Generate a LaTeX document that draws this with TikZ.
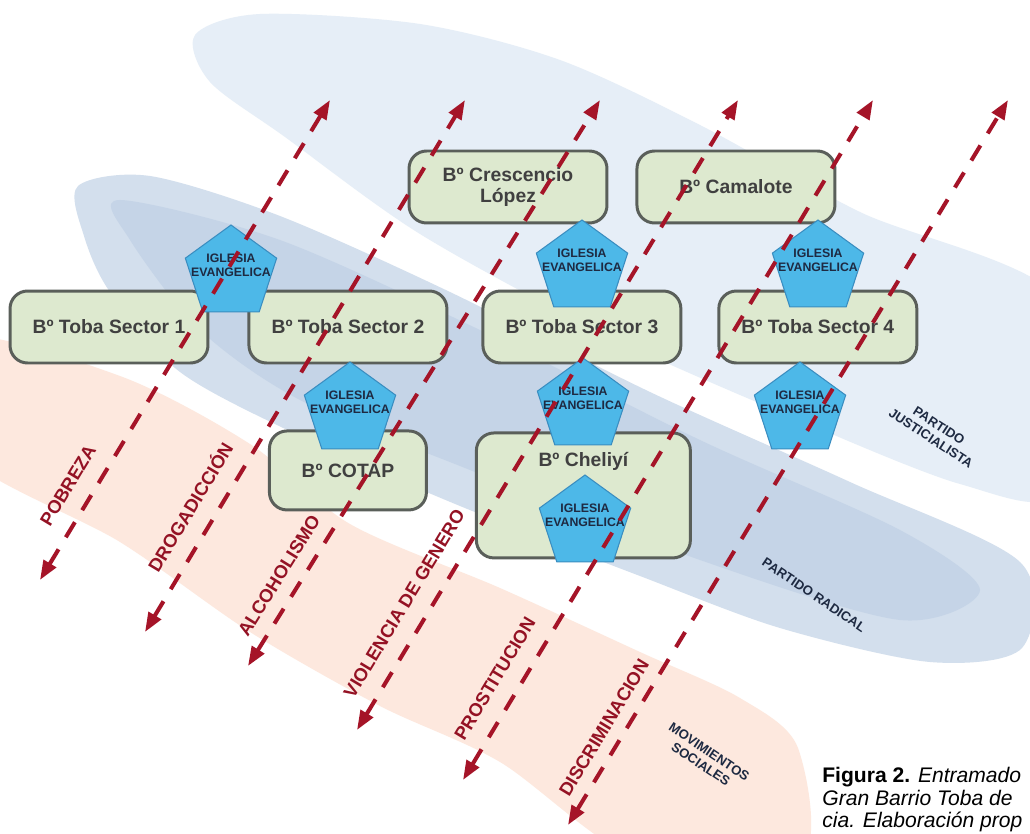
\documentclass[tikz,border=0pt]{standalone}
\usepackage{fontspec}
\setmainfont{Liberation Sans}
\usepackage{xcolor}
\usepackage{tikz}
\usetikzlibrary{positioning, arrows.meta, shapes.geometric}

\definecolor{barriofill}{HTML}{DDE9CF}
\definecolor{barrioline}{HTML}{5A5F5A}
\definecolor{iglesiafill}{HTML}{4DB8E8}
\definecolor{iglesialine}{HTML}{3A8DC0}
\definecolor{riesgored}{HTML}{A51428}
\definecolor{pjblue}{HTML}{E6EEF7}
\definecolor{ucrblue}{HTML}{D3DFED}
\definecolor{ucrcore}{HTML}{C2D2E6}
\definecolor{msocpeach}{HTML}{FDE8DE}
\definecolor{bandtext}{HTML}{1E2A42}

\begin{document}
\begin{tikzpicture}[
    x=0.02cm, y=-0.02cm,
    barrio/.style={
        rectangle,
        draw=barrioline,
        fill=barriofill,
        line width=1.7pt,
        rounded corners=10pt,
        minimum width=3.96cm,
        minimum height=1.44cm,
        align=center,
        text=black!75,
        font=\fontsize{11}{12.5}\selectfont\bfseries
    },
    iglesiatexto/.style={
        align=center,
        inner sep=0pt,
        yshift=4.5pt,
        text=bandtext,
        font=\fontsize{7}{8}\selectfont\bfseries
    },
    iglesia/.style={
        regular polygon,
        regular polygon sides=5,
        draw=iglesialine,
        fill=iglesiafill,
        line width=0.6pt,
        minimum size=1.92cm,
        inner sep=0pt,
        label={[iglesiatexto]center:IGLESIA\\EVANGELICA}
    },
    riesgo/.style={
        riesgored,
        line width=2.3pt,
        dash pattern=on 10pt off 8pt,
        {Triangle[length=11pt,width=8pt]}-{Triangle[length=11pt,width=8pt]}
    },
    riesgolabel/.style={
        sloped, above=6pt,
        text=riesgored!90!black,
        font=\fontsize{10.5}{12}\selectfont\bfseries
    },
    banda/.style={
        align=center,
        text=bandtext,
        font=\fontsize{7.5}{8.5}\selectfont\bfseries
    }
]
    \clip (0,0) rectangle (1030,834);
    \fill[white] (0,0) rectangle (1030,834);

    % Background: party and movement bands
    \fill[pjblue]
        plot[smooth cycle] coordinates {(195,35) (260,14) (420,24) (560,60) (700,125) (860,212) (1060,300)
                                        (1060,490) (960,484) (780,412) (600,332) (420,234) (285,137) (210,82)};
    \fill[ucrblue]
        plot[smooth cycle] coordinates {(78,186) (150,176) (280,216) (450,292) (650,392) (850,482) (1020,562)
                                        (1022,648) (930,662) (780,628) (640,576) (460,506) (300,436) (180,372) (110,292) (84,236)};
    \fill[ucrcore, opacity=0.8]
        plot[smooth cycle] coordinates {(120,200) (280,240) (480,330) (700,440) (900,530) (980,590)
                                        (900,620) (700,560) (470,470) (300,400) (200,330) (130,240)};
    \fill[msocpeach]
        plot[smooth cycle] coordinates {(-40,338) (120,376) (250,444) (350,524) (500,588) (640,652) (740,698)
                                        (798,748) (800,860) (640,860) (500,762) (380,706) (250,632) (120,542) (-40,452)};

    % Row 1: Crescencio Lopez + Camalote
    \node[barrio] (cres) at (508,187) {Bº Crescencio\\López};
    \node[barrio, right=0.54cm of cres] (cama) {Bº Camalote};

    % Row 2: Toba sectors
    \node[barrio] (toba1) at (109,327) {Bº Toba Sector 1};
    \node[barrio, right=0.76cm of toba1] (toba2) {Bº Toba Sector 2};
    \node[barrio, right=0.66cm of toba2] (toba3) {Bº Toba Sector 3};
    \node[barrio, right=0.7cm of toba3] (toba4) {Bº Toba Sector 4};

    % Row 3: COTAP + Cheliyi
    \node[barrio, minimum width=3.14cm, minimum height=1.58cm, below=1.3cm of toba2] (cotap) {Bº COTAP};
    \node[barrio, minimum width=4.28cm, minimum height=2.5cm, text depth=1.45cm,
          below=1.34cm of toba3, xshift=0.03cm] (cheliyi) {Bº Cheliyí};

    % Churches
    \node[iglesia] (igl1) at (231,273) {};
    \node[iglesia] (igl2) at (582,268) {};
    \node[iglesia] (igl3) at (818,268) {};
    \node[iglesia] (igl4) at (350,410) {};
    \node[iglesia] (igl5) at (583,406) {};
    \node[iglesia] (igl6) at (585,523) {};
    \node[iglesia] (igl7) at (800,410) {};

    % Band labels
    \node[banda, rotate=-33] (pj) at (935,432) {PARTIDO\\JUSTICIALISTA};
    \node[banda, rotate=-34] (ucr) at (814,595) {PARTIDO RADICAL};
    \node[banda, rotate=-34] (msoc) at (705,758) {MOVIMIENTOS\\SOCIALES};

    % Risk arrows
    \coordinate (pob-s) at (40,580);   \coordinate (pob-n) at (330,100);
    \coordinate (dro-s) at (145,632);  \coordinate (dro-n) at (465,100);
    \coordinate (alc-s) at (248,666);  \coordinate (alc-n) at (600,100);
    \coordinate (vio-s) at (357,730);  \coordinate (vio-n) at (738,100);
    \coordinate (pro-s) at (463,780);  \coordinate (pro-n) at (873,100);
    \coordinate (dis-s) at (568,825);  \coordinate (dis-n) at (1008,100);

    \draw[riesgo] (pob-s) -- (pob-n) node[riesgolabel, pos=0.17] (pobreza) {POBREZA};
    \draw[riesgo] (dro-s) -- (dro-n) node[riesgolabel, pos=0.21] (droga) {DROGADICCIÓN};
    \draw[riesgo] (alc-s) -- (alc-n) node[riesgolabel, pos=0.14, above=4pt] (alcohol) {ALCOHOLISMO};
    \draw[riesgo] (vio-s) -- (vio-n) node[riesgolabel, pos=0.18] (violencia) {VIOLENCIA DE GENERO};
    \draw[riesgo] (pro-s) -- (pro-n) node[riesgolabel, pos=0.13] (prost) {PROSTITUCION};
    \draw[riesgo] (dis-s) -- (dis-n) node[riesgolabel, pos=0.12, above=3pt] (discrim) {DISCRIMINACION};

    % Caption
    \node[anchor=north west, align=left, inner sep=0pt,
          font=\fontsize{12}{12.9}\selectfont] (caption) at (822,767)
        {\textbf{Figura 2.} \textit{Entramado}\\\textit{Gran Barrio Toba de}\\\textit{cia. Elaboración prop}};
\end{tikzpicture}
\end{document}
